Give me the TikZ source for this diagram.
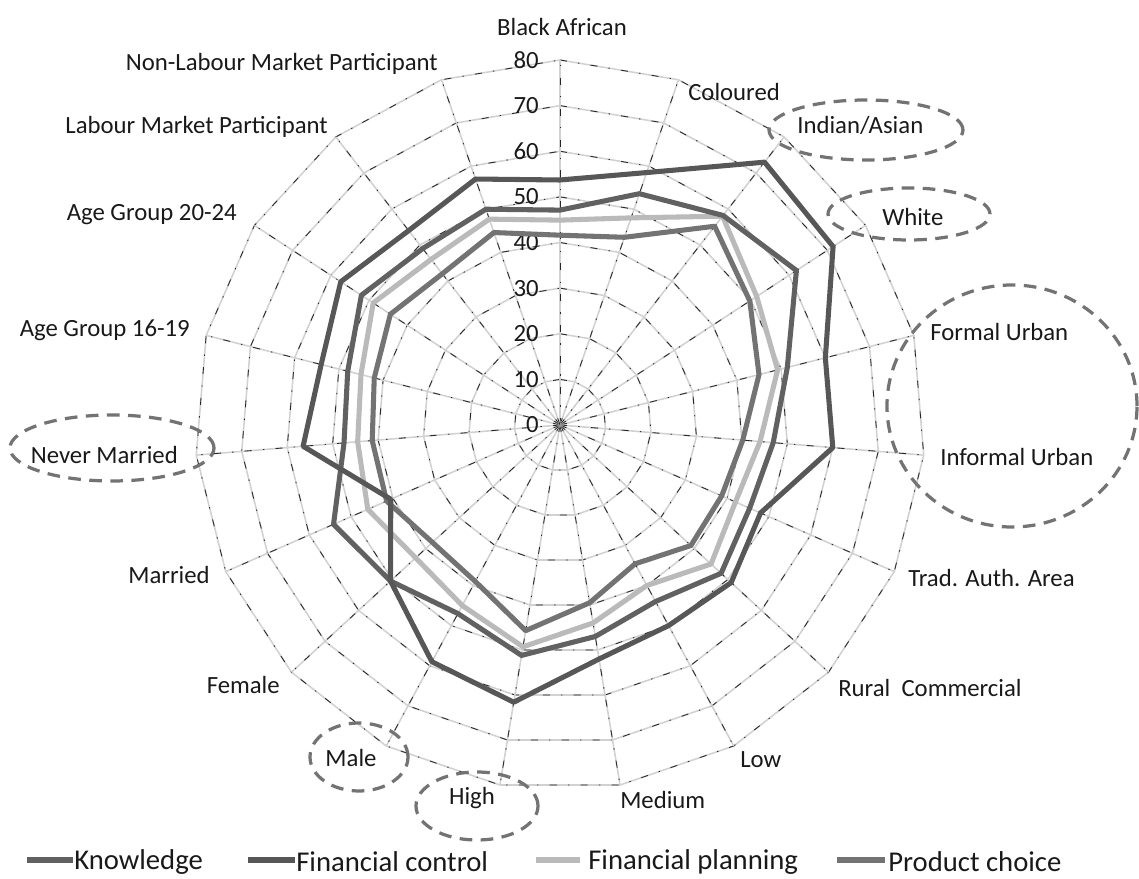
\documentclass[tikz,border=0pt]{standalone}
\usepackage{fontspec}
\setmainfont{Carlito}
\begin{document}
\begin{tikzpicture}[x=0.025cm,y=0.025cm,
  lbl/.style={font=\fontsize{17.6}{21}\selectfont, text=black!90, inner sep=0pt},
  leg/.style={font=\fontsize{20.4}{24}\selectfont, text=black!90, inner sep=0pt, anchor=west},
  ring/.style={draw=black!18, line width=1.1pt},
  ringdash/.style={draw=black!85, line width=0.6pt, dash pattern=on 5pt off 8pt on 1pt off 8pt},
  series/.style={line width=3.6pt, line join=round},
  circled/.style={draw=black!55, line width=2.3pt, dash pattern=on 9pt off 6pt}]
\useasboundingbox (-560,-454) rectangle (579,425);
\foreach \v in {10,20,...,80}{
  \pgfmathsetmacro\r{\v*4.5625}
  \draw[ring] (90:\r) \foreach \k in {1,...,18}{ -- ({90-\k*360/19}:\r) } -- cycle;
  \draw[ringdash] (90:\r) \foreach \k in {1,...,18}{ -- ({90-\k*360/19}:\r) } -- cycle;
}
\coordinate (c) at (0,0);
\foreach \k in {0,...,18}{
  \coordinate (sp\k) at ({90-\k*360/19}:365);
  \draw[ring] (c) -- (sp\k);
  \draw[ringdash] (c) -- (sp\k);
}
\foreach \v [count=\i from 0] in {0,10,...,80}
  \node[lbl, anchor=east] (t\i) at (-21,\v*4.5625) {\v};
\foreach \v [count=\k from 0] in {53.7,58.5,73,71.5,60,60,48,51,50,52,61.6,59,50.5,40.5,56.5,54,57.4,54,57}
  \coordinate (fc\k) at ({90-\k*360/19}:\v*4.5625);
\foreach \v [count=\k from 0] in {47.1,53.6,58.2,61.9,51.4,46.9,45.4,48,44,47,51.2,47,50.5,54.2,47.5,48,52,49,50}
  \coordinate (kn\k) at ({90-\k*360/19}:\v*4.5625);
\foreach \v [count=\k from 0] in {44.9,48,58,51.5,49.2,44,42,45,40,44,49.3,45,43,46,44.5,45,48.9,46,47.7}
  \coordinate (fp\k) at ({90-\k*360/19}:\v*4.5625);
\foreach \v [count=\k from 0] in {41.6,43.5,55.2,49.7,45,40.2,38.7,39,34.6,39.5,45.7,39,38,41.5,41.3,42,44.4,42,44.6}
  \coordinate (pc\k) at ({90-\k*360/19}:\v*4.5625);
\draw[series, black!27] (fp0) \foreach \k in {1,...,18}{ -- (fp\k) } -- cycle;
\draw[series, black!55] (pc0) \foreach \k in {1,...,18}{ -- (pc\k) } -- cycle;
\draw[series, black!62] (kn0) \foreach \k in {1,...,18}{ -- (kn\k) } -- cycle;
\draw[series, black!66] (fc0) \foreach \k in {1,...,18}{ -- (fc\k) } -- cycle;
\node[lbl] (lab0) at (2,398) {Black African};
\node[lbl, anchor=west] (lab1) at (128,333) {Coloured};
\node[lbl, anchor=west] (lab2) at (237,300) {Indian/Asian};
\node[lbl, anchor=west] (lab3) at (322,208) {White};
\node[lbl, anchor=west] (lab4) at (370,93) {Formal Urban};
\node[lbl, anchor=west] (lab5) at (380,-32) {Informal Urban};
\node[lbl, anchor=west] (lab6) at (348,-153) {Trad. Auth. Area};
\node[lbl, anchor=west] (lab7) at (278,-263) {Rural\ \ Commercial};
\node[lbl, anchor=west] (lab8) at (180,-335) {Low};
\node[lbl, anchor=west] (lab9) at (60,-375) {Medium};
\node[lbl] (lab10) at (-88,-373) {High};
\node[lbl] (lab11) at (-209,-333) {Male};
\node[lbl, anchor=east] (lab12) at (-280,-260) {Female};
\node[lbl, anchor=east] (lab13) at (-350,-150) {Married};
\node[lbl, anchor=east] (lab14) at (-382,-30) {Never Married};
\node[lbl, anchor=east] (lab15) at (-370,95) {Age Group 16-19};
\node[lbl, anchor=east] (lab16) at (-323,210) {Age Group 20-24};
\node[lbl, anchor=east] (lab17) at (-232,298) {Labour Market Participant};
\node[lbl, anchor=east] (lab18) at (-122,361) {Non-Labour Market Participant};
\draw[circled] (306,295) ellipse (97 and 30);
\draw[circled] (349,211) ellipse (81 and 26);
\draw[circled] (452,19) ellipse (125 and 121);
\draw[circled] (-448,-23) ellipse (102 and 33);
\draw[circled] (-201,-332) ellipse (49 and 34);
\draw[circled] (-83,-381) ellipse (61 and 34);
\coordinate (s1a) at (-533,-435); \coordinate (s1b) at (-487,-435);
\coordinate (s2a) at (-312,-435); \coordinate (s2b) at (-265,-435);
\coordinate (s3a) at (-24,-435);  \coordinate (s3b) at (20,-435);
\coordinate (s4a) at (277,-435);  \coordinate (s4b) at (325,-435);
\draw[series, black!62] (s1a) -- (s1b);
\draw[series, black!66] (s2a) -- (s2b);
\draw[series, black!27] (s3a) -- (s3b);
\draw[series, black!55] (s4a) -- (s4b);
\node[leg] (k1) at (-486,-437) {Knowledge};
\node[leg] (k2) at (-264,-437) {Financial control};
\node[leg] (k3) at (28,-437) {Financial planning};
\node[leg] (k4) at (328,-437) {Product choice};
\end{tikzpicture}
\end{document}
